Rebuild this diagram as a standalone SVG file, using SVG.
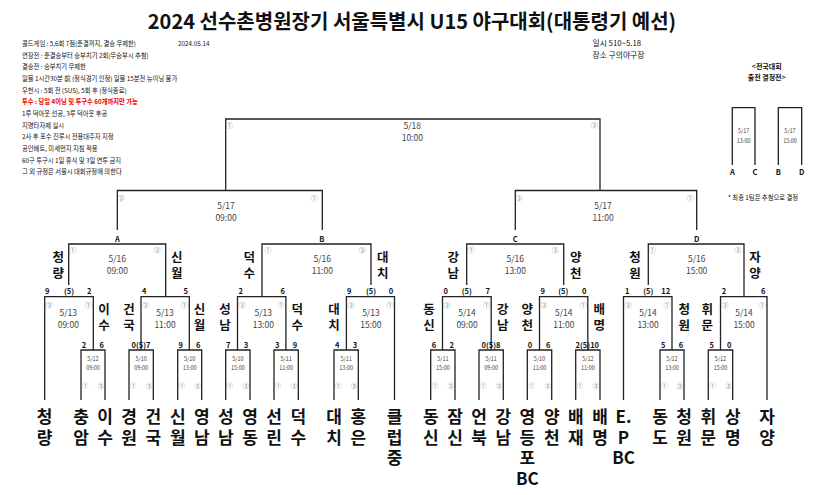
<svg xmlns="http://www.w3.org/2000/svg" width="835" height="495" viewBox="0 0 835 495">
<style>
text{font-family:'Noto Sans CJK KR','Noto Sans',sans-serif;dominant-baseline:central;fill:#111}
.ln{fill:none;stroke:#222;stroke-width:1.3}
.team{font-size:17px;font-weight:bold;text-anchor:middle}
.lab{font-size:12.5px;font-weight:bold;text-anchor:middle}
.sc{font-size:7.5px;font-weight:bold;text-anchor:middle}
.dt{font-size:8.5px;fill:#444;text-anchor:middle}
.dts{font-size:5.5px;fill:#444;text-anchor:middle}
.c{font-size:7px;fill:#888;text-anchor:middle}
.cs{font-size:6px;fill:#888;text-anchor:middle}
.note{font-size:6.3px}
.red{fill:#e00;font-weight:bold}
.abcd{font-size:7.5px;font-weight:bold;text-anchor:middle}
</style>
<rect width="835" height="495" fill="#fff"/>
<text x="412" y="20" font-size="20" font-weight="bold" text-anchor="middle">2024 선수촌병원장기 서울특별시 U15 야구대회(대통령기 예선)</text>
<g id="notes">
<text class="note" x="22" y="43.3">콜드게임 : 5,6회 7점(준결까지, 결승 무제한)</text>
<text class="note" x="178" y="43.3">2024.05.14</text>
<text class="note" x="22" y="55">연장전 : 준결승부터 승부치기 2회(무승부시 추첨)</text>
<text class="note" x="22" y="66.7">결승전 : 승부치기 무제한</text>
<text class="note" x="22" y="78.3">일몰 1시간30분 前 (정식경기 인정) 일몰 15분전 뉴이닝 불가</text>
<text class="note" x="22" y="90">우천시 : 5회 전 (SUS), 5회 후 (정식종료)</text>
<text class="note red" x="22" y="101.7">투수 : 당일 4이닝 및 투구수 60개까지만 가능</text>
<text class="note" x="22" y="113.3">1루 덕아웃 선공, 3루 덕아웃 후공</text>
<text class="note" x="22" y="125">지명타자제 실시</text>
<text class="note" x="22" y="136.7">2사 후 포수 진루시 전용대주자 지정</text>
<text class="note" x="22" y="148.3">공인배트, 미세먼지 지침 적용</text>
<text class="note" x="22" y="160">60구 투구시 1일 휴식 및 3일 연투 금지</text>
<text class="note" x="22" y="171.7">그 외 규정은 서울시 대회규정에 의한다</text>
</g>
<g id="info">
<text x="592.5" y="42.7" font-size="7.8">일시  510~5.18</text>
<text x="592.5" y="54.3" font-size="7.8">장소  구의야구장</text>
</g>
<g id="playoff">
<text x="766.7" y="66" font-size="7" font-weight="bold" text-anchor="middle">&lt;전국대회<tspan x="766.7" dy="11.3">출전 결정전&gt;</tspan></text>
<path class="ln" d="M732.3,165 V107.7 H755 V165 M778.3,165 V107.7 H801.7 V165"/>
<text class="dts" x="743.7" y="131" font-size="6">5/17<tspan x="743.7" dy="9.7">13:00</tspan></text>
<text class="dts" x="790" y="131" font-size="6">5/17<tspan x="790" dy="9.7">15:00</tspan></text>
<text class="abcd" x="732.3" y="171.7">A</text>
<text class="abcd" x="755" y="171.7">C</text>
<text class="abcd" x="778.3" y="171.7">B</text>
<text class="abcd" x="801.7" y="171.7">D</text>
<text x="728" y="197" font-size="6.3">* 최종 1팀은 추첨으로 결정</text>
</g>
<g id="connectors">
<path class="ln" d="M225.7,190.5 V119 H600 V190.5"/>
<path class="ln" d="M117.3,230 V190.5 H322.3 V230"/>
<path class="ln" d="M515.3,230 V190.5 H696.7 V230"/>
<path class="ln" d="M68.7,285 V244 H165.7 V296.7"/>
<path class="ln" d="M262,296.7 V244 H371 V285"/>
<path class="ln" d="M466.7,285 V244 H563.7 V285"/>
<path class="ln" d="M648.3,285 V244 H744 V296.7"/>
<path class="ln" d="M44.7,400 V296.7 H93.3 V350"/>
<path class="ln" d="M141,350 V296.7 H189.3 V350"/>
<path class="ln" d="M237.5,350 V296.7 H285.9 V350"/>
<path class="ln" d="M346.4,350 V296.7 H394.5 V400"/>
<path class="ln" d="M442.5,350 V296.7 H491.2 V350"/>
<path class="ln" d="M539.5,350 V296.7 H587.8 V350"/>
<path class="ln" d="M623.5,400 V296.7 H672 V350"/>
<path class="ln" d="M720.5,350 V296.7 H767 V400"/>
<path class="ln" d="M81,400 V350 H105 V400"/>
<path class="ln" d="M129,400 V350 H153.3 V400"/>
<path class="ln" d="M177.7,400 V350 H201.7 V400"/>
<path class="ln" d="M225.7,400 V350 H250 V400"/>
<path class="ln" d="M274,400 V350 H298.3 V400"/>
<path class="ln" d="M334,400 V350 H358.3 V400"/>
<path class="ln" d="M430.7,400 V350 H455 V400"/>
<path class="ln" d="M479,400 V350 H503.3 V400"/>
<path class="ln" d="M527.3,400 V350 H551.7 V400"/>
<path class="ln" d="M575.7,400 V350 H600 V400"/>
<path class="ln" d="M660,400 V350 H684 V400"/>
<path class="ln" d="M708.3,400 V350 H732.7 V400"/>
</g>
<g id="final">
<text class="c" x="229.3" y="125">①</text><text class="c" x="594.3" y="125">③</text>
<text class="dt" x="412.3" y="125">5/18<tspan x="412.3" dy="12">10:00</tspan></text>
</g>
<g id="semi1">
<text class="c" x="121" y="197.7">③</text><text class="c" x="314" y="197.7">①</text>
<text class="dt" x="226" y="205">5/17<tspan x="226" dy="12">09:00</tspan></text>
<text class="abcd" x="117.3" y="238">A</text>
<text class="abcd" x="321.7" y="238">B</text>
</g>
<g id="semi2">
<text class="c" x="519" y="197.7">③</text><text class="c" x="690" y="197.7">①</text>
<text class="dt" x="603" y="205">5/17<tspan x="603" dy="12">11:00</tspan></text>
<text class="abcd" x="515.3" y="238">C</text>
<text class="abcd" x="696.7" y="238">D</text>
</g>
<g id="quarters">
<text class="c" x="72.7" y="250">①</text><text class="c" x="157.3" y="250">③</text>
<text class="dt" x="117.3" y="258.3">5/16<tspan x="117.3" dy="11.7">09:00</tspan></text>
<text class="c" x="267.7" y="250">①</text><text class="c" x="362.3" y="250">③</text>
<text class="dt" x="322.3" y="258.3">5/16<tspan x="322.3" dy="11.7">11:00</tspan></text>
<text class="c" x="471" y="250">①</text><text class="c" x="555.3" y="250">③</text>
<text class="dt" x="515.3" y="258.3">5/16<tspan x="515.3" dy="11.7">13:00</tspan></text>
<text class="c" x="652.3" y="250">①</text><text class="c" x="737.7" y="250">③</text>
<text class="dt" x="696.7" y="258.3">5/16<tspan x="696.7" dy="11.7">15:00</tspan></text>
<text class="lab" x="58.3" y="256.7">청<tspan x="58.3" dy="15">량</tspan></text>
<text class="lab" x="176.7" y="256.7">신<tspan x="176.7" dy="15">월</tspan></text>
<text class="lab" x="249.3" y="256.7">덕<tspan x="249.3" dy="15">수</tspan></text>
<text class="lab" x="382.7" y="256.7">대<tspan x="382.7" dy="15">치</tspan></text>
<text class="lab" x="453.3" y="256.7">강<tspan x="453.3" dy="15">남</tspan></text>
<text class="lab" x="575.7" y="256.7">양<tspan x="575.7" dy="15">천</tspan></text>
<text class="lab" x="635" y="256.7">청<tspan x="635" dy="15">원</tspan></text>
<text class="lab" x="755" y="256.7">자<tspan x="755" dy="15">양</tspan></text>
</g>
<g id="scores-upper">
<text class="sc" x="47.3" y="290.7">9</text><text class="sc" x="69" y="290.7">(5)</text><text class="sc" x="89.3" y="290.7">2</text>
<text class="sc" x="144.3" y="290.7">4</text><text class="sc" x="185.7" y="290.7">5</text>
<text class="sc" x="240.7" y="290.7">2</text><text class="sc" x="282.7" y="290.7">6</text>
<text class="sc" x="349.3" y="290.7">9</text><text class="sc" x="371" y="290.7">(5)</text><text class="sc" x="391" y="290.7">0</text>
<text class="sc" x="445.7" y="290.7">0</text><text class="sc" x="466.7" y="290.7">(5)</text><text class="sc" x="487.7" y="290.7">7</text>
<text class="sc" x="542.7" y="290.7">9</text><text class="sc" x="563.3" y="290.7">(5)</text><text class="sc" x="584.3" y="290.7">0</text>
<text class="sc" x="627.3" y="290.7">1</text><text class="sc" x="648.3" y="290.7">(5)</text><text class="sc" x="665.7" y="290.7">12</text>
<text class="sc" x="724" y="290.7">2</text><text class="sc" x="763.3" y="290.7">6</text>
</g>
<g id="round16">
<text class="c" x="49.3" y="305">③</text><text class="c" x="88.3" y="305">①</text>
<text class="dt" x="68.3" y="311.7">5/13<tspan x="68.3" dy="12">09:00</tspan></text>
<text class="c" x="145.6" y="305">③</text><text class="c" x="184.3" y="305">①</text>
<text class="dt" x="165" y="311.7">5/13<tspan x="165" dy="12">11:00</tspan></text>
<text class="c" x="242" y="305">③</text><text class="c" x="281" y="305">①</text>
<text class="dt" x="263.3" y="311.7">5/13<tspan x="263.3" dy="12">13:00</tspan></text>
<text class="c" x="351" y="305">③</text><text class="c" x="390" y="305">①</text>
<text class="dt" x="370.9" y="311.7">5/13<tspan x="370.9" dy="12">15:00</tspan></text>
<text class="c" x="447" y="305">③</text><text class="c" x="486.5" y="305">①</text>
<text class="dt" x="467" y="311.7">5/14<tspan x="467" dy="12">09:00</tspan></text>
<text class="c" x="544" y="305">③</text><text class="c" x="583" y="305">①</text>
<text class="dt" x="563.8" y="311.7">5/14<tspan x="563.8" dy="12">11:00</tspan></text>
<text class="c" x="628" y="305">③</text><text class="c" x="667" y="305">①</text>
<text class="dt" x="648" y="311.7">5/14<tspan x="648" dy="12">13:00</tspan></text>
<text class="c" x="725" y="305">③</text><text class="c" x="762" y="305">①</text>
<text class="dt" x="744" y="311.7">5/14<tspan x="744" dy="12">15:00</tspan></text>
<text class="lab" x="104" y="308">이<tspan x="104" dy="16">수</tspan></text>
<text class="lab" x="129" y="308">건<tspan x="129" dy="16">국</tspan></text>
<text class="lab" x="199.5" y="308">신<tspan x="199.5" dy="16">월</tspan></text>
<text class="lab" x="225" y="308">성<tspan x="225" dy="16">남</tspan></text>
<text class="lab" x="297.3" y="308">덕<tspan x="297.3" dy="16">수</tspan></text>
<text class="lab" x="334" y="308">대<tspan x="334" dy="16">치</tspan></text>
<text class="lab" x="429" y="308">동<tspan x="429" dy="16">신</tspan></text>
<text class="lab" x="502.7" y="308">강<tspan x="502.7" dy="16">남</tspan></text>
<text class="lab" x="527.3" y="308">양<tspan x="527.3" dy="16">천</tspan></text>
<text class="lab" x="599.3" y="308">배<tspan x="599.3" dy="16">명</tspan></text>
<text class="lab" x="684.3" y="308">청<tspan x="684.3" dy="16">원</tspan></text>
<text class="lab" x="707.3" y="308">휘<tspan x="707.3" dy="16">문</tspan></text>
</g>
<g id="scores-lower">
<text class="sc" x="84" y="344">2</text><text class="sc" x="101.7" y="344">6</text>
<text class="sc" x="141" y="344">0(5)7</text>
<text class="sc" x="180.7" y="344">9</text><text class="sc" x="198.3" y="344">6</text>
<text class="sc" x="228.3" y="344">7</text><text class="sc" x="246" y="344">3</text>
<text class="sc" x="277.3" y="344">3</text><text class="sc" x="295" y="344">9</text>
<text class="sc" x="337.3" y="344">4</text><text class="sc" x="355" y="344">3</text>
<text class="sc" x="434" y="344">6</text><text class="sc" x="451.7" y="344">2</text>
<text class="sc" x="491" y="344">0(5)8</text>
<text class="sc" x="530" y="344">0</text><text class="sc" x="548.3" y="344">6</text>
<text class="sc" x="587.3" y="344">2(5)10</text>
<text class="sc" x="663.3" y="344">5</text><text class="sc" x="681" y="344">6</text>
<text class="sc" x="711.7" y="344">5</text><text class="sc" x="729.3" y="344">0</text>
</g>
<g id="round32">
<text class="dts" x="93" y="359.3">5/12<tspan x="93" dy="9">09:00</tspan></text><text class="cs" x="85.3" y="385">①</text><text class="cs" x="100.7" y="385">③</text>
<text class="dts" x="141.2" y="359.3">5/10<tspan x="141.2" dy="9">09:00</tspan></text><text class="cs" x="133.3" y="385">①</text><text class="cs" x="149" y="385">③</text>
<text class="dts" x="189.7" y="359.3">5/10<tspan x="189.7" dy="9">13:00</tspan></text><text class="cs" x="182" y="385">①</text><text class="cs" x="197.4" y="385">③</text>
<text class="dts" x="237.9" y="359.3">5/10<tspan x="237.9" dy="9">15:00</tspan></text><text class="cs" x="230" y="385">①</text><text class="cs" x="245.7" y="385">③</text>
<text class="dts" x="286.2" y="359.3">5/11<tspan x="286.2" dy="9">11:00</tspan></text><text class="cs" x="278.3" y="385">①</text><text class="cs" x="294" y="385">③</text>
<text class="dts" x="346.2" y="359.3">5/11<tspan x="346.2" dy="9">13:00</tspan></text><text class="cs" x="338.3" y="385">①</text><text class="cs" x="354" y="385">③</text>
<text class="dts" x="442.9" y="359.3">5/11<tspan x="442.9" dy="9">15:00</tspan></text><text class="cs" x="435" y="385">①</text><text class="cs" x="450.7" y="385">③</text>
<text class="dts" x="491.2" y="359.3">5/11<tspan x="491.2" dy="9">09:00</tspan></text><text class="cs" x="483.3" y="385">①</text><text class="cs" x="499" y="385">③</text>
<text class="dts" x="539.5" y="359.3">5/10<tspan x="539.5" dy="9">11:00</tspan></text><text class="cs" x="531.6" y="385">①</text><text class="cs" x="547.4" y="385">③</text>
<text class="dts" x="587.9" y="359.3">5/12<tspan x="587.9" dy="9">11:00</tspan></text><text class="cs" x="580" y="385">①</text><text class="cs" x="595.7" y="385">③</text>
<text class="dts" x="672" y="359.3">5/12<tspan x="672" dy="9">13:00</tspan></text><text class="cs" x="664.3" y="385">①</text><text class="cs" x="679.7" y="385">③</text>
<text class="dts" x="720.5" y="359.3">5/12<tspan x="720.5" dy="9">15:00</tspan></text><text class="cs" x="712.6" y="385">①</text><text class="cs" x="728.4" y="385">③</text>
</g>
<g id="teams">
<text id="t-cheongryang" class="team" x="44.5" y="415">청<tspan x="44.5" dy="20.5">량</tspan></text>
<text id="t-chungam" class="team" x="81" y="415">충<tspan x="81" dy="20.5">암</tspan></text>
<text id="t-isu" class="team" x="105" y="415">이<tspan x="105" dy="20.5">수</tspan></text>
<text id="t-gyeongwon" class="team" x="129" y="415">경<tspan x="129" dy="20.5">원</tspan></text>
<text id="t-geonguk" class="team" x="153.3" y="415">건<tspan x="153.3" dy="20.5">국</tspan></text>
<text id="t-sinwol" class="team" x="177.7" y="415">신<tspan x="177.7" dy="20.5">월</tspan></text>
<text id="t-yeongnam" class="team" x="201.7" y="415">영<tspan x="201.7" dy="20.5">남</tspan></text>
<text id="t-seongnam" class="team" x="225.7" y="415">성<tspan x="225.7" dy="20.5">남</tspan></text>
<text id="t-yeongdong" class="team" x="250" y="415">영<tspan x="250" dy="20.5">동</tspan></text>
<text id="t-seollin" class="team" x="274" y="415">선<tspan x="274" dy="20.5">린</tspan></text>
<text id="t-deoksu" class="team" x="298.3" y="415">덕<tspan x="298.3" dy="20.5">수</tspan></text>
<text id="t-daechi" class="team" x="334" y="415">대<tspan x="334" dy="20.5">치</tspan></text>
<text id="t-hongeun" class="team" x="358.3" y="415">홍<tspan x="358.3" dy="20.5">은</tspan></text>
<text id="t-club" class="team" x="394.5" y="415">클<tspan x="394.5" dy="20.5">럽</tspan><tspan x="394.5" dy="20.5">중</tspan></text>
<text id="t-dongsin" class="team" x="430.7" y="415">동<tspan x="430.7" dy="20.5">신</tspan></text>
<text id="t-jamsin" class="team" x="455" y="415">잠<tspan x="455" dy="20.5">신</tspan></text>
<text id="t-eonbuk" class="team" x="479" y="415">언<tspan x="479" dy="20.5">북</tspan></text>
<text id="t-gangnam" class="team" x="503.3" y="415">강<tspan x="503.3" dy="20.5">남</tspan></text>
<text id="t-ydpbc" class="team" x="527.3" y="415">영<tspan x="527.3" dy="20.5">등</tspan><tspan x="527.3" dy="20.5">포</tspan><tspan x="527.3" dy="21">BC</tspan></text>
<text id="t-yangcheon" class="team" x="551.7" y="415">양<tspan x="551.7" dy="20.5">천</tspan></text>
<text id="t-baejae" class="team" x="575.7" y="415">배<tspan x="575.7" dy="20.5">재</tspan></text>
<text id="t-baemyeong" class="team" x="600" y="415">배<tspan x="600" dy="20.5">명</tspan></text>
<text id="t-epbc" class="team" x="623.5" y="415">E.<tspan x="623.5" dy="20.5">P</tspan><tspan x="623.5" dy="20.5">BC</tspan></text>
<text id="t-dongdo" class="team" x="660" y="415">동<tspan x="660" dy="20.5">도</tspan></text>
<text id="t-cheongwon" class="team" x="684" y="415">청<tspan x="684" dy="20.5">원</tspan></text>
<text id="t-hwimun" class="team" x="708.3" y="415">휘<tspan x="708.3" dy="20.5">문</tspan></text>
<text id="t-sangmyeong" class="team" x="732.7" y="415">상<tspan x="732.7" dy="20.5">명</tspan></text>
<text id="t-jayang" class="team" x="767" y="415">자<tspan x="767" dy="20.5">양</tspan></text>
</g>
</svg>
